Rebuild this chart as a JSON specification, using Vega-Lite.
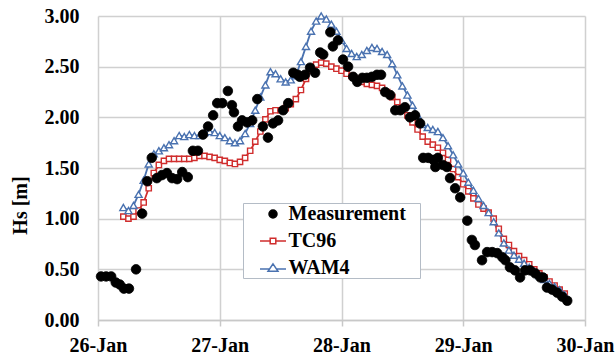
{
  "$schema": "https://vega.github.io/schema/vega-lite/v6.json",
  "width": 487,
  "height": 304,
  "autosize": {"type": "none"},
  "padding": {"left": 98, "top": 16, "right": 31, "bottom": 38},
  "background": "white",
  "config": {
    "font": "Liberation Serif",
    "view": {"stroke": null},
    "axis": {
      "labelFont": "Liberation Serif",
      "labelFontSize": 20,
      "labelFontWeight": "bold",
      "labelColor": "black",
      "titleFont": "Liberation Serif",
      "titleFontSize": 20,
      "titleFontWeight": "bold",
      "titleColor": "black",
      "gridColor": "#d0d0d0",
      "gridWidth": 1.5,
      "gridOpacity": 1
    }
  },
  "datasets": {
    "hs": [
      {"hour": 0.6, "hs": 0.43, "series": "Measurement"},
      {"hour": 1.6, "hs": 0.43, "series": "Measurement"},
      {"hour": 2.6, "hs": 0.43, "series": "Measurement"},
      {"hour": 3.5, "hs": 0.37, "series": "Measurement"},
      {"hour": 4.3, "hs": 0.35, "series": "Measurement"},
      {"hour": 5.1, "hs": 0.31, "series": "Measurement"},
      {"hour": 6.1, "hs": 0.31, "series": "Measurement"},
      {"hour": 7.5, "hs": 0.50, "series": "Measurement"},
      {"hour": 8.7, "hs": 1.05, "series": "Measurement"},
      {"hour": 9.7, "hs": 1.37, "series": "Measurement"},
      {"hour": 10.6, "hs": 1.60, "series": "Measurement"},
      {"hour": 11.6, "hs": 1.40, "series": "Measurement"},
      {"hour": 12.6, "hs": 1.43, "series": "Measurement"},
      {"hour": 13.6, "hs": 1.45, "series": "Measurement"},
      {"hour": 14.6, "hs": 1.40, "series": "Measurement"},
      {"hour": 15.6, "hs": 1.39, "series": "Measurement"},
      {"hour": 16.6, "hs": 1.46, "series": "Measurement"},
      {"hour": 17.7, "hs": 1.41, "series": "Measurement"},
      {"hour": 18.7, "hs": 1.67, "series": "Measurement"},
      {"hour": 19.7, "hs": 1.67, "series": "Measurement"},
      {"hour": 20.7, "hs": 1.83, "series": "Measurement"},
      {"hour": 21.7, "hs": 1.91, "series": "Measurement"},
      {"hour": 22.7, "hs": 2.02, "series": "Measurement"},
      {"hour": 23.5, "hs": 2.14, "series": "Measurement"},
      {"hour": 24.5, "hs": 2.14, "series": "Measurement"},
      {"hour": 25.6, "hs": 2.26, "series": "Measurement"},
      {"hour": 26.4, "hs": 2.12, "series": "Measurement"},
      {"hour": 26.8, "hs": 2.05, "series": "Measurement"},
      {"hour": 27.6, "hs": 1.91, "series": "Measurement"},
      {"hour": 28.4, "hs": 1.97, "series": "Measurement"},
      {"hour": 29.4, "hs": 1.95, "series": "Measurement"},
      {"hour": 30.4, "hs": 1.97, "series": "Measurement"},
      {"hour": 31.4, "hs": 2.18, "series": "Measurement"},
      {"hour": 32.5, "hs": 1.91, "series": "Measurement"},
      {"hour": 33.5, "hs": 1.80, "series": "Measurement"},
      {"hour": 34.5, "hs": 1.94, "series": "Measurement"},
      {"hour": 35.5, "hs": 1.97, "series": "Measurement"},
      {"hour": 36.5, "hs": 2.07, "series": "Measurement"},
      {"hour": 37.5, "hs": 2.14, "series": "Measurement"},
      {"hour": 38.5, "hs": 2.44, "series": "Measurement"},
      {"hour": 39.4, "hs": 2.42, "series": "Measurement"},
      {"hour": 39.8, "hs": 2.40, "series": "Measurement"},
      {"hour": 40.8, "hs": 2.42, "series": "Measurement"},
      {"hour": 41.8, "hs": 2.49, "series": "Measurement"},
      {"hour": 42.8, "hs": 2.44, "series": "Measurement"},
      {"hour": 43.8, "hs": 2.64, "series": "Measurement"},
      {"hour": 44.4, "hs": 2.62, "series": "Measurement"},
      {"hour": 45.8, "hs": 2.84, "series": "Measurement"},
      {"hour": 46.3, "hs": 2.70, "series": "Measurement"},
      {"hour": 47.3, "hs": 2.76, "series": "Measurement"},
      {"hour": 48.3, "hs": 2.57, "series": "Measurement"},
      {"hour": 49.3, "hs": 2.50, "series": "Measurement"},
      {"hour": 50.3, "hs": 2.40, "series": "Measurement"},
      {"hour": 51.1, "hs": 2.35, "series": "Measurement"},
      {"hour": 52.1, "hs": 2.39, "series": "Measurement"},
      {"hour": 53.0, "hs": 2.39, "series": "Measurement"},
      {"hour": 54.0, "hs": 2.40, "series": "Measurement"},
      {"hour": 55.0, "hs": 2.42, "series": "Measurement"},
      {"hour": 55.8, "hs": 2.42, "series": "Measurement"},
      {"hour": 56.6, "hs": 2.25, "series": "Measurement"},
      {"hour": 57.6, "hs": 2.22, "series": "Measurement"},
      {"hour": 58.6, "hs": 2.07, "series": "Measurement"},
      {"hour": 59.6, "hs": 2.07, "series": "Measurement"},
      {"hour": 60.5, "hs": 2.10, "series": "Measurement"},
      {"hour": 61.5, "hs": 2.00, "series": "Measurement"},
      {"hour": 62.5, "hs": 2.02, "series": "Measurement"},
      {"hour": 63.5, "hs": 1.94, "series": "Measurement"},
      {"hour": 64.1, "hs": 1.60, "series": "Measurement"},
      {"hour": 65.1, "hs": 1.60, "series": "Measurement"},
      {"hour": 66.1, "hs": 1.58, "series": "Measurement"},
      {"hour": 66.5, "hs": 1.51, "series": "Measurement"},
      {"hour": 67.0, "hs": 1.60, "series": "Measurement"},
      {"hour": 68.0, "hs": 1.53, "series": "Measurement"},
      {"hour": 68.8, "hs": 1.51, "series": "Measurement"},
      {"hour": 69.4, "hs": 1.40, "series": "Measurement"},
      {"hour": 70.4, "hs": 1.30, "series": "Measurement"},
      {"hour": 71.4, "hs": 1.21, "series": "Measurement"},
      {"hour": 72.8, "hs": 0.98, "series": "Measurement"},
      {"hour": 73.7, "hs": 0.79, "series": "Measurement"},
      {"hour": 74.3, "hs": 0.74, "series": "Measurement"},
      {"hour": 75.7, "hs": 0.59, "series": "Measurement"},
      {"hour": 76.7, "hs": 0.67, "series": "Measurement"},
      {"hour": 77.7, "hs": 0.67, "series": "Measurement"},
      {"hour": 78.7, "hs": 0.66, "series": "Measurement"},
      {"hour": 79.7, "hs": 0.62, "series": "Measurement"},
      {"hour": 80.3, "hs": 0.59, "series": "Measurement"},
      {"hour": 81.2, "hs": 0.52, "series": "Measurement"},
      {"hour": 82.2, "hs": 0.49, "series": "Measurement"},
      {"hour": 83.2, "hs": 0.42, "series": "Measurement"},
      {"hour": 84.2, "hs": 0.49, "series": "Measurement"},
      {"hour": 85.2, "hs": 0.49, "series": "Measurement"},
      {"hour": 86.2, "hs": 0.46, "series": "Measurement"},
      {"hour": 87.2, "hs": 0.42, "series": "Measurement"},
      {"hour": 87.7, "hs": 0.42, "series": "Measurement"},
      {"hour": 88.5, "hs": 0.32, "series": "Measurement"},
      {"hour": 89.5, "hs": 0.30, "series": "Measurement"},
      {"hour": 90.5, "hs": 0.27, "series": "Measurement"},
      {"hour": 91.5, "hs": 0.23, "series": "Measurement"},
      {"hour": 92.5, "hs": 0.19, "series": "Measurement"},

      {"hour": 5, "hs": 1.02, "series": "TC96"},
      {"hour": 6, "hs": 1.00, "series": "TC96"},
      {"hour": 7, "hs": 1.02, "series": "TC96"},
      {"hour": 8, "hs": 1.08, "series": "TC96"},
      {"hour": 9, "hs": 1.16, "series": "TC96"},
      {"hour": 10, "hs": 1.30, "series": "TC96"},
      {"hour": 11, "hs": 1.45, "series": "TC96"},
      {"hour": 12, "hs": 1.53, "series": "TC96"},
      {"hour": 13, "hs": 1.57, "series": "TC96"},
      {"hour": 14, "hs": 1.59, "series": "TC96"},
      {"hour": 15, "hs": 1.59, "series": "TC96"},
      {"hour": 16, "hs": 1.59, "series": "TC96"},
      {"hour": 17, "hs": 1.59, "series": "TC96"},
      {"hour": 18, "hs": 1.59, "series": "TC96"},
      {"hour": 19, "hs": 1.60, "series": "TC96"},
      {"hour": 20, "hs": 1.62, "series": "TC96"},
      {"hour": 21, "hs": 1.62, "series": "TC96"},
      {"hour": 22, "hs": 1.61, "series": "TC96"},
      {"hour": 23, "hs": 1.60, "series": "TC96"},
      {"hour": 24, "hs": 1.58, "series": "TC96"},
      {"hour": 25, "hs": 1.57, "series": "TC96"},
      {"hour": 26, "hs": 1.55, "series": "TC96"},
      {"hour": 27, "hs": 1.54, "series": "TC96"},
      {"hour": 28, "hs": 1.56, "series": "TC96"},
      {"hour": 29, "hs": 1.60, "series": "TC96"},
      {"hour": 30, "hs": 1.67, "series": "TC96"},
      {"hour": 31, "hs": 1.76, "series": "TC96"},
      {"hour": 32, "hs": 1.86, "series": "TC96"},
      {"hour": 33, "hs": 1.98, "series": "TC96"},
      {"hour": 34, "hs": 2.06, "series": "TC96"},
      {"hour": 35, "hs": 2.07, "series": "TC96"},
      {"hour": 36, "hs": 2.07, "series": "TC96"},
      {"hour": 37, "hs": 2.09, "series": "TC96"},
      {"hour": 38, "hs": 2.13, "series": "TC96"},
      {"hour": 39, "hs": 2.18, "series": "TC96"},
      {"hour": 40, "hs": 2.27, "series": "TC96"},
      {"hour": 41, "hs": 2.38, "series": "TC96"},
      {"hour": 42, "hs": 2.46, "series": "TC96"},
      {"hour": 43, "hs": 2.52, "series": "TC96"},
      {"hour": 44, "hs": 2.54, "series": "TC96"},
      {"hour": 45, "hs": 2.53, "series": "TC96"},
      {"hour": 46, "hs": 2.50, "series": "TC96"},
      {"hour": 47, "hs": 2.48, "series": "TC96"},
      {"hour": 48, "hs": 2.46, "series": "TC96"},
      {"hour": 49, "hs": 2.43, "series": "TC96"},
      {"hour": 50, "hs": 2.41, "series": "TC96"},
      {"hour": 51, "hs": 2.38, "series": "TC96"},
      {"hour": 52, "hs": 2.35, "series": "TC96"},
      {"hour": 53, "hs": 2.33, "series": "TC96"},
      {"hour": 54, "hs": 2.32, "series": "TC96"},
      {"hour": 55, "hs": 2.31, "series": "TC96"},
      {"hour": 56, "hs": 2.29, "series": "TC96"},
      {"hour": 57, "hs": 2.25, "series": "TC96"},
      {"hour": 58, "hs": 2.20, "series": "TC96"},
      {"hour": 59, "hs": 2.15, "series": "TC96"},
      {"hour": 60, "hs": 2.09, "series": "TC96"},
      {"hour": 61, "hs": 2.02, "series": "TC96"},
      {"hour": 62, "hs": 1.95, "series": "TC96"},
      {"hour": 63, "hs": 1.88, "series": "TC96"},
      {"hour": 64, "hs": 1.81, "series": "TC96"},
      {"hour": 65, "hs": 1.76, "series": "TC96"},
      {"hour": 66, "hs": 1.73, "series": "TC96"},
      {"hour": 67, "hs": 1.70, "series": "TC96"},
      {"hour": 68, "hs": 1.65, "series": "TC96"},
      {"hour": 69, "hs": 1.58, "series": "TC96"},
      {"hour": 70, "hs": 1.49, "series": "TC96"},
      {"hour": 71, "hs": 1.41, "series": "TC96"},
      {"hour": 72, "hs": 1.34, "series": "TC96"},
      {"hour": 73, "hs": 1.27, "series": "TC96"},
      {"hour": 74, "hs": 1.20, "series": "TC96"},
      {"hour": 75, "hs": 1.14, "series": "TC96"},
      {"hour": 76, "hs": 1.10, "series": "TC96"},
      {"hour": 77, "hs": 1.06, "series": "TC96"},
      {"hour": 78, "hs": 1.00, "series": "TC96"},
      {"hour": 79, "hs": 0.90, "series": "TC96"},
      {"hour": 80, "hs": 0.80, "series": "TC96"},
      {"hour": 81, "hs": 0.74, "series": "TC96"},
      {"hour": 82, "hs": 0.68, "series": "TC96"},
      {"hour": 83, "hs": 0.63, "series": "TC96"},
      {"hour": 84, "hs": 0.59, "series": "TC96"},
      {"hour": 85, "hs": 0.55, "series": "TC96"},
      {"hour": 86, "hs": 0.50, "series": "TC96"},
      {"hour": 87, "hs": 0.46, "series": "TC96"},
      {"hour": 88, "hs": 0.42, "series": "TC96"},
      {"hour": 89, "hs": 0.38, "series": "TC96"},
      {"hour": 90, "hs": 0.34, "series": "TC96"},
      {"hour": 91, "hs": 0.30, "series": "TC96"},
      {"hour": 92, "hs": 0.26, "series": "TC96"},

      {"hour": 5, "hs": 1.11, "series": "WAM4"},
      {"hour": 6, "hs": 1.08, "series": "WAM4"},
      {"hour": 7, "hs": 1.13, "series": "WAM4"},
      {"hour": 8, "hs": 1.24, "series": "WAM4"},
      {"hour": 9, "hs": 1.38, "series": "WAM4"},
      {"hour": 10, "hs": 1.54, "series": "WAM4"},
      {"hour": 11, "hs": 1.64, "series": "WAM4"},
      {"hour": 12, "hs": 1.67, "series": "WAM4"},
      {"hour": 13, "hs": 1.70, "series": "WAM4"},
      {"hour": 14, "hs": 1.73, "series": "WAM4"},
      {"hour": 15, "hs": 1.77, "series": "WAM4"},
      {"hour": 16, "hs": 1.82, "series": "WAM4"},
      {"hour": 17, "hs": 1.81, "series": "WAM4"},
      {"hour": 18, "hs": 1.83, "series": "WAM4"},
      {"hour": 19, "hs": 1.82, "series": "WAM4"},
      {"hour": 20, "hs": 1.82, "series": "WAM4"},
      {"hour": 21, "hs": 1.85, "series": "WAM4"},
      {"hour": 22, "hs": 1.86, "series": "WAM4"},
      {"hour": 23, "hs": 1.85, "series": "WAM4"},
      {"hour": 24, "hs": 1.82, "series": "WAM4"},
      {"hour": 25, "hs": 1.80, "series": "WAM4"},
      {"hour": 26, "hs": 1.77, "series": "WAM4"},
      {"hour": 27, "hs": 1.75, "series": "WAM4"},
      {"hour": 28, "hs": 1.77, "series": "WAM4"},
      {"hour": 29, "hs": 1.84, "series": "WAM4"},
      {"hour": 30, "hs": 1.94, "series": "WAM4"},
      {"hour": 31, "hs": 2.07, "series": "WAM4"},
      {"hour": 32, "hs": 2.20, "series": "WAM4"},
      {"hour": 33, "hs": 2.32, "series": "WAM4"},
      {"hour": 34, "hs": 2.45, "series": "WAM4"},
      {"hour": 35, "hs": 2.43, "series": "WAM4"},
      {"hour": 36, "hs": 2.38, "series": "WAM4"},
      {"hour": 37, "hs": 2.35, "series": "WAM4"},
      {"hour": 38, "hs": 2.37, "series": "WAM4"},
      {"hour": 39, "hs": 2.41, "series": "WAM4"},
      {"hour": 40, "hs": 2.55, "series": "WAM4"},
      {"hour": 41, "hs": 2.70, "series": "WAM4"},
      {"hour": 42, "hs": 2.85, "series": "WAM4"},
      {"hour": 43, "hs": 2.95, "series": "WAM4"},
      {"hour": 44, "hs": 3.00, "series": "WAM4"},
      {"hour": 45, "hs": 2.97, "series": "WAM4"},
      {"hour": 46, "hs": 2.92, "series": "WAM4"},
      {"hour": 47, "hs": 2.85, "series": "WAM4"},
      {"hour": 48, "hs": 2.76, "series": "WAM4"},
      {"hour": 49, "hs": 2.68, "series": "WAM4"},
      {"hour": 50, "hs": 2.63, "series": "WAM4"},
      {"hour": 51, "hs": 2.60, "series": "WAM4"},
      {"hour": 52, "hs": 2.62, "series": "WAM4"},
      {"hour": 53, "hs": 2.66, "series": "WAM4"},
      {"hour": 54, "hs": 2.69, "series": "WAM4"},
      {"hour": 55, "hs": 2.68, "series": "WAM4"},
      {"hour": 56, "hs": 2.65, "series": "WAM4"},
      {"hour": 57, "hs": 2.62, "series": "WAM4"},
      {"hour": 58, "hs": 2.53, "series": "WAM4"},
      {"hour": 59, "hs": 2.42, "series": "WAM4"},
      {"hour": 60, "hs": 2.31, "series": "WAM4"},
      {"hour": 61, "hs": 2.22, "series": "WAM4"},
      {"hour": 62, "hs": 2.12, "series": "WAM4"},
      {"hour": 63, "hs": 2.02, "series": "WAM4"},
      {"hour": 64, "hs": 1.93, "series": "WAM4"},
      {"hour": 65, "hs": 1.90, "series": "WAM4"},
      {"hour": 66, "hs": 1.88, "series": "WAM4"},
      {"hour": 67, "hs": 1.86, "series": "WAM4"},
      {"hour": 68, "hs": 1.80, "series": "WAM4"},
      {"hour": 69, "hs": 1.72, "series": "WAM4"},
      {"hour": 70, "hs": 1.63, "series": "WAM4"},
      {"hour": 71, "hs": 1.54, "series": "WAM4"},
      {"hour": 72, "hs": 1.45, "series": "WAM4"},
      {"hour": 73, "hs": 1.36, "series": "WAM4"},
      {"hour": 74, "hs": 1.28, "series": "WAM4"},
      {"hour": 75, "hs": 1.20, "series": "WAM4"},
      {"hour": 76, "hs": 1.13, "series": "WAM4"},
      {"hour": 77, "hs": 1.06, "series": "WAM4"},
      {"hour": 78, "hs": 0.97, "series": "WAM4"},
      {"hour": 79, "hs": 0.86, "series": "WAM4"},
      {"hour": 80, "hs": 0.76, "series": "WAM4"},
      {"hour": 81, "hs": 0.69, "series": "WAM4"},
      {"hour": 82, "hs": 0.64, "series": "WAM4"},
      {"hour": 83, "hs": 0.60, "series": "WAM4"},
      {"hour": 84, "hs": 0.56, "series": "WAM4"},
      {"hour": 85, "hs": 0.52, "series": "WAM4"},
      {"hour": 86, "hs": 0.48, "series": "WAM4"},
      {"hour": 87, "hs": 0.44, "series": "WAM4"},
      {"hour": 88, "hs": 0.40, "series": "WAM4"},
      {"hour": 89, "hs": 0.36, "series": "WAM4"},
      {"hour": 90, "hs": 0.33, "series": "WAM4"},
      {"hour": 91, "hs": 0.30, "series": "WAM4"},
      {"hour": 92, "hs": 0.25, "series": "WAM4"}
    ]
  },
  "data": {"name": "hs"},
  "encoding": {
    "x": {
      "field": "hour",
      "type": "quantitative",
      "scale": {"domain": [0, 96], "nice": false, "zero": false},
      "axis": {
        "title": null,
        "values": [0, 24, 48, 72, 96],
        "labelExpr": "['26-Jan','27-Jan','28-Jan','29-Jan','30-Jan'][round(datum.value/24)]",
        "labelFlush": false,
        "labelOverlap": false,
        "labelPadding": 9,
        "tickColor": "#c8c8c8",
        "tickSize": 6,
        "tickWidth": 1.5,
        "domainColor": "#c8c8c8",
        "domainWidth": 1.5,
        "grid": true
      }
    },
    "y": {
      "field": "hs",
      "type": "quantitative",
      "scale": {"domain": [0, 3], "nice": false},
      "axis": {
        "title": "Hs [m]",
        "values": [0, 0.5, 1, 1.5, 2, 2.5, 3],
        "format": ".2f",
        "ticks": false,
        "domain": false,
        "labelPadding": 19,
        "grid": true,
        "titleFont": "Liberation Serif",
        "titleFontSize": 20,
        "titleFontWeight": "bold",
        "titleAngle": -90,
        "titleAlign": "center",
        "titleBaseline": "middle",
        "titleLimit": 300,
        "titleX": -78,
        "titleY": 189
      }
    },
    "color": {
      "field": "series",
      "type": "nominal",
      "scale": {"domain": ["Measurement", "TC96", "WAM4"], "range": ["#000000", "#d02d2d", "#4a72b0"]},
      "legend": {
        "title": null,
        "orient": "none",
        "legendX": 145,
        "legendY": 187,
        "padding": 0,
        "rowPadding": 6,
        "symbolSize": 400,
        "symbolOffset": 19,
        "labelOffset": 4.5,
        "labelFont": "Liberation Serif",
        "labelFontSize": 20,
        "labelFontWeight": "bold",
        "labelColor": "black",
        "strokeColor": "#b4bcc6",
        "fillColor": "white",
        "encode": {
          "symbols": {
            "update": {
              "shape": {"signal": "datum.value === 'TC96' ? 'M-1.3,0H-0.28M0.28,0H1.3M-0.28,-0.28H0.28V0.28H-0.28Z' : datum.value === 'WAM4' ? 'M-1.3,0.1H-0.35M0.35,0.1H1.3M0,-0.42L0.5,0.33H-0.5Z' : 'M-0.4,0A0.4,0.4 0 1,0 0.4,0A0.4,0.4 0 1,0 -0.4,0Z'"},
              "fill": {"signal": "datum.value === 'Measurement' ? '#000000' : '#ffffff'"},
              "strokeWidth": {"value": 1.5},
              "opacity": {"value": 1}
            }
          },
          "labels": {
            "update": {
              "text": {"signal": "datum.label + '\u2002\u2009\u200b'"}
            }
          }
        }
      }
    }
  },
  "layer": [
    {
      "transform": [{"filter": "datum.series !== 'Measurement'"}],
      "mark": {"type": "line", "strokeWidth": 1.8}
    },
    {
      "transform": [{"filter": "datum.series === 'TC96'"}],
      "mark": {"type": "point", "shape": "square", "size": 28, "filled": false, "fill": "white", "strokeWidth": 1.4, "opacity": 1}
    },
    {
      "transform": [{"filter": "datum.series === 'WAM4'"}],
      "mark": {"type": "point", "shape": "triangle-up", "size": 50, "filled": false, "fill": "white", "strokeWidth": 1.4, "opacity": 1}
    },
    {
      "transform": [{"filter": "datum.series === 'Measurement'"}],
      "mark": {"type": "point", "shape": "circle", "size": 92, "filled": false, "fill": "#000000", "strokeWidth": 0.8, "opacity": 1}
    }
  ]
}
